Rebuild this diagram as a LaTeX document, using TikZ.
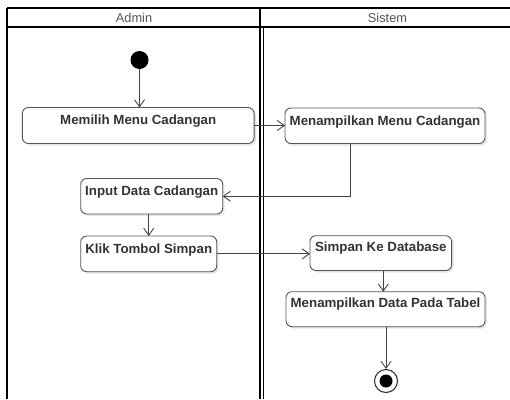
\documentclass[tikz,border=0pt]{standalone}
\usepackage{fontspec}
\setmainfont{Liberation Sans}
\usetikzlibrary{arrows.meta,shadows}
\definecolor{txtc}{HTML}{333333}
\definecolor{hdrc}{HTML}{555555}
\definecolor{edgec}{HTML}{555555}
\definecolor{flowc}{HTML}{444444}
\begin{document}
\begin{tikzpicture}[x=1pt,y=-1pt,
  lane/.style={line width=1.6pt,black},
  hdr/.style={font=\fontsize{12.8}{14}\selectfont,text=hdrc,inner sep=0pt},
  act/.style={draw=edgec,line width=0.9pt,rounded corners=6pt,fill=white,
    anchor=north,inner sep=0pt,outer sep=0pt,
    font=\fontsize{13.3}{15}\selectfont\bfseries,text=txtc,
    drop shadow={shadow xshift=2pt,shadow yshift=-2pt,fill=black!10,opacity=1}},
  flow/.style={draw=flowc,line width=0.9pt,-{Straight Barb[length=7pt,width=10pt]}},
  startnode/.style={circle,fill=black,minimum size=18pt,inner sep=0pt},
  endnode/.style={circle,draw=black!85,line width=1pt,fill=white,minimum size=23pt,inner sep=0pt,
    path picture={\fill[black] (path picture bounding box.center) circle (6.5pt);}}
]
\useasboundingbox (0,0) rectangle (510,399);
% swimlanes
\draw[lane] (7,8) -- (510,8);
\draw[lane] (7,27) -- (510,27);
\draw[lane] (7,8) -- (7,399);
\draw[lane] (260,8) -- (260,27);
\draw[line width=1.3pt] (260,27) -- (260,399);
\draw[line width=1.3pt] (263.5,27) -- (263.5,399);
\node[hdr] (hA) at (134,18) {Admin};
\node[hdr] (hS) at (387.5,18) {Sistem};
% nodes
\node[startnode] (start) at (139.5,60) {};
\node[act,minimum width=231.7pt,text height=17pt,text depth=19pt] (m1) at (138.2,107.5) {Memilih Menu Cadangan};
\node[act,minimum width=200pt,text height=17pt,text depth=18.5pt] (m2) at (385,108) {Menampilkan Menu Cadangan};
\node[act,minimum width=142pt,text height=16.5pt,text depth=19pt] (m3) at (151.7,178.5) {Input Data Cadangan};
\node[act,minimum width=136pt,text height=17.3pt,text depth=18.4pt] (m4) at (148.7,236) {Klik Tombol Simpan};
\node[act,minimum width=141.7pt,text height=16pt,text depth=18.8pt] (m5) at (380.8,235.7) {Simpan Ke Database};
\node[act,minimum width=199pt,text height=16pt,text depth=19pt] (m6) at (385.5,291.7) {Menampilkan Data Pada Tabel};
\node[endnode] (end) at (386,381) {};
% connectors
\draw[flow] (start) -- (start |- m1.north);
\draw[flow] (m1.east) -- (m1.east -| m2.west);
\draw[flow] ([xshift=-35pt]m2.south) |- (m3.east);
\draw[flow] (m4.north |- m3.south) -- (m4.north);
\draw[flow] (m4.east) -- (m4.east -| m5.west);
\draw[flow] ([xshift=2.5pt]m5.south) -- ([xshift=2.5pt]m5.south |- m6.north);
\draw[flow] (m6.south -| end) -- (end.north);
\end{tikzpicture}
\end{document}
